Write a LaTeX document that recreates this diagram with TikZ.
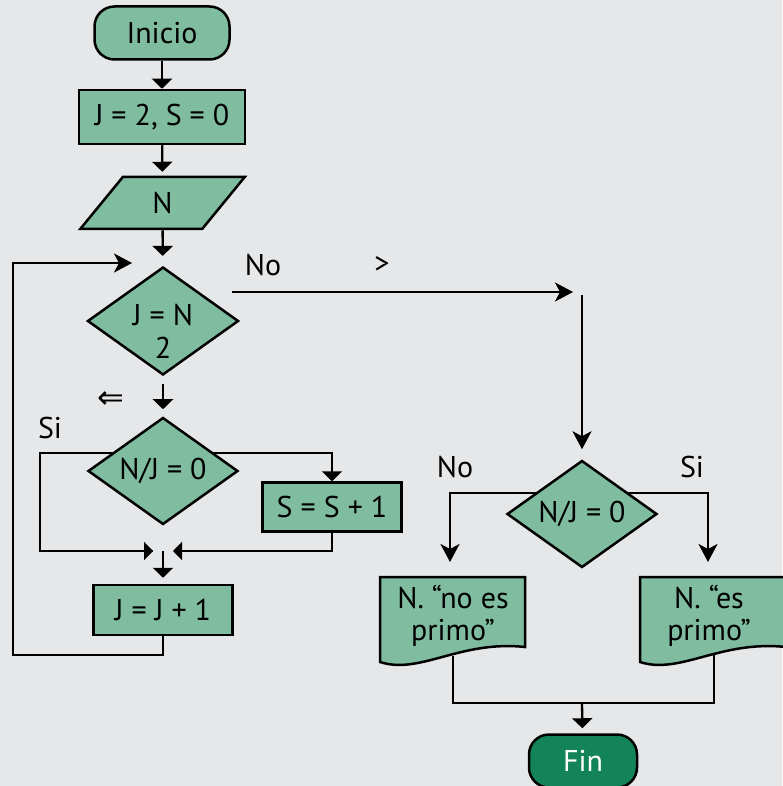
\documentclass[tikz,border=0pt]{standalone}
\usepackage{fontspec}
\setmainfont{PT Sans}
\newfontfamily\symfont{DejaVu Sans}
\usetikzlibrary{shapes.geometric,arrows.meta}
\definecolor{bgc}{HTML}{E6E7E9}
\definecolor{boxgreen}{HTML}{7FBCA0}
\definecolor{fingreen}{HTML}{138459}
\pgfdeclarelayer{background}
\pgfdeclarelayer{connect}
\pgfsetlayers{background,connect,main}
\begin{document}
\begin{tikzpicture}[x=1pt,y=-1pt,
  font=\fontsize{30}{32}\selectfont,
  every node/.style={inner sep=0pt, align=center},
  shp/.style={draw=black, fill=boxgreen, line width=2.5pt},
  term/.style={shp, rectangle, rounded corners=20pt},
  proc/.style={shp, rectangle},
  dec/.style={shp, diamond, aspect=1.4, minimum width=150pt, minimum height=107pt},
  io/.style={shp, trapezium, trapezium left angle=63.4, trapezium right angle=116.6, trapezium stretches=true, minimum width=165pt, minimum height=52pt},
  conn/.style={draw=black, line width=2.3pt},
  tri/.style={conn, -{Triangle[length=10pt,width=20pt]}},
  stl/.style={conn, -{Stealth[length=18pt,width=19pt,inset=5pt]}},
  lbl/.style={text=black}
]
\begin{pgfonlayer}{background}
\fill[bgc] (0,0) rectangle (782,786);
\end{pgfonlayer}
\useasboundingbox (0,0) rectangle (782,786);

% nodes
\node[term, minimum width=135pt, minimum height=53pt] (inicio) at (162,33) {Inicio};
\node[proc, minimum width=166pt, minimum height=54pt] (init) at (162,117) {J = 2, S = 0};
\node[io] (read) at (162.5,203) {N};
\node[dec] (d1) at (163,321) {\raisebox{-15pt}[\height][\depth]{\begin{tabular}{@{}c@{}}J = N\\[1pt]2\end{tabular}}};
\node[dec] (d2) at (163,471) {N/J = 0};
\node[proc, minimum width=139pt, minimum height=49pt] (s1) at (332,507) {S = S + 1};
\node[proc, minimum width=139pt, minimum height=50pt] (j1) at (163,610) {J = J + 1};
\node[dec] (d3) at (582,514) {N/J = 0};

% documents
\draw[shp] (380,577) -- (525,577) -- (525,647)
  .. controls (460,640) and (420,675) .. (380,662) -- cycle;
\node (doc1) at (453,616) {N. “no es\\primo”};
\draw[shp] (640,577) -- (786,577) -- (786,647)
  .. controls (720,640) and (680,675) .. (640,662) -- cycle;
\node (doc2) at (709,616) {N. “es\\primo”};

\node[term, fill=fingreen, text=white, minimum width=108pt, minimum height=53pt] (fin) at (583,761) {Fin};

% labels
\node[lbl] (lno1) at (263,265) {No};
\node[lbl] (lgt) at (382,265) {>};
\node[lbl, font=\symfont\fontsize{32}{34}\selectfont] (lle) at (111,400) {⇐};
\node[lbl] (lsi1) at (50,428) {Si};
\node[lbl] (lno2) at (455,467) {No};
\node[lbl] (lsi2) at (692,467) {Si};

% coordinates
\coordinate (loopin) at (132,263);
\coordinate (noA) at (232,292);
\coordinate (noB) at (573,292);
\coordinate (vA) at (582,295);
\coordinate (m) at (163,551);
\coordinate (docA) at (450,562);
\coordinate (docB) at (708,562);
\coordinate (doc1b) at (453,656);
\coordinate (doc2b) at (714,655);
\coordinate (join) at (582,703);

\begin{pgfonlayer}{connect}
\draw[tri] (inicio) -- (init);
\draw[tri, shorten >=4pt] (init) -- (read);
\draw[tri, shorten >=10pt] (read) -- (d1);
\draw[tri, shorten <=8pt, shorten >=7pt] (d1) -- (d2);
\draw[stl] (noA) -- (noB);
\draw[stl, shorten >=10pt] (vA) -- (d3.north);
% inner decision
\draw[conn] ([yshift=18pt]d2.center) -| (40,551) -- ([xshift=-10pt]m);
\draw[conn, -{Triangle[length=9pt,width=18pt]}] (40,551) -- ([xshift=-10pt]m);
\draw[tri] ([yshift=18pt]d2.center) -| (s1.north);
\draw[conn, -{Triangle[length=9pt,width=18pt]}] (s1.south) |- ([xshift=10pt]m);
\draw[tri, shorten >=6pt] (m) -- (j1);
% loop back
\draw[stl] (j1.south) |- (13,655) |- (loopin);
% right decision
\draw[stl] ([yshift=21pt]d3.center) -| (docA);
\draw[stl] ([yshift=21pt]d3.center) -| (docB);
\draw[conn] (doc1b) |- (join) -| (doc2b);
\draw[conn, -{Triangle[length=10pt,width=20pt]}, shorten >=5pt] (join) -- (fin);
\end{pgfonlayer}
\end{tikzpicture}
\end{document}
